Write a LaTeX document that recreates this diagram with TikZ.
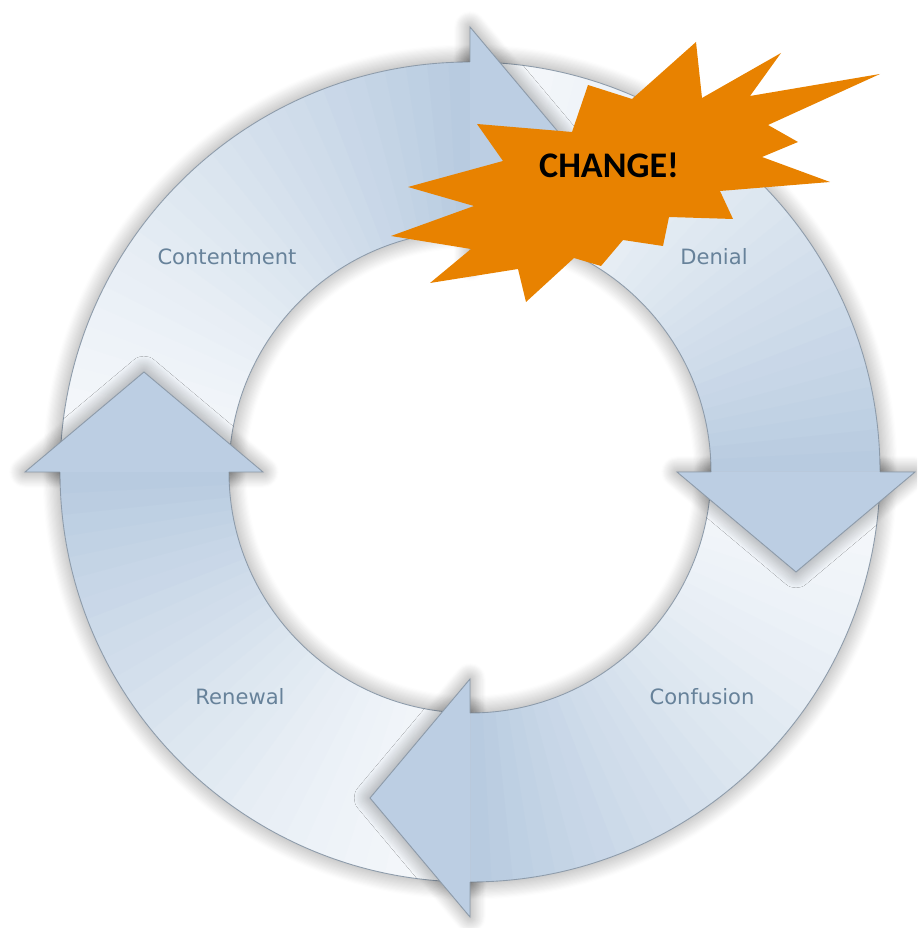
\documentclass[tikz,border=0pt]{standalone}
\usepackage{fontspec}
\setmainfont{DejaVu Sans}
\newfontfamily\burstfont{Carlito}
\usetikzlibrary{shadows.blur}
\definecolor{ringlight}{HTML}{F5F8FB}
\definecolor{ringdeep}{HTML}{B8CBE0}
\definecolor{headfill}{HTML}{BCCEE3}
\definecolor{ringedge}{HTML}{8D9BAA}
\definecolor{stagetext}{HTML}{67829A}
\definecolor{burst}{HTML}{E88200}

\begin{document}
\begin{tikzpicture}[x=0.02cm,y=0.02cm,
  softshadow/.style={blur shadow={shadow xshift=0pt,shadow yshift=0pt,shadow blur radius=10pt,shadow blur steps=16,shadow opacity=42}},
  headshadow/.style={blur shadow={shadow xshift=0pt,shadow yshift=0pt,shadow blur radius=9pt,shadow blur steps=16,shadow opacity=45}},
  ringline/.style={draw=ringedge,line width=0.5pt},
  stage/.style={font=\fontsize{12}{14}\selectfont,text=stagetext}]
  \useasboundingbox (-470,-456) rectangle (447,472);
  % shadow under the four bands
  \foreach \a in {180,90,0,-90}
    \path[softshadow,fill=white] (\a:410) arc[start angle=\a,end angle=\a-90,radius=410]
      -- (\a-90:241) arc[start angle=\a-90,end angle=\a,radius=241] -- cycle;
  % bands, light at the tail and darker towards the head
  \foreach \a in {180,90,0,-90}
    \foreach \i in {0,...,29} {
      \pgfmathsetmacro\segfrom{\a-3*\i}
      \pgfmathsetmacro\segto{\a-3*\i-3.6}
      \pgfmathtruncatemacro\mix{100*(\i/29)^1.4}
      \fill[ringdeep!\mix!ringlight] (\segfrom:241) arc[start angle=\segfrom,end angle=\segto,radius=241]
        -- (\segto:410) arc[start angle=\segto,end angle=\segfrom,radius=410] -- cycle;
    }
  \foreach \a in {180,90,0,-90}
    \draw[ringline] (\a:410) arc[start angle=\a,end angle=\a-90,radius=410]
      (\a:241) arc[start angle=\a,end angle=\a-90,radius=241];
  % arrow heads, their shadow kept off their own band
  \foreach \a/\h in {180/90,90/0,0/-90,-90/-180} {
    \begin{scope}[even odd rule]
      \clip (-470,-456) rectangle (447,472)
        (\a:410) arc[start angle=\a,end angle=\h,radius=410]
        -- (\h:241) arc[start angle=\h,end angle=\a,radius=241] -- cycle;
      \path[headshadow] (\h:207) -- (\h-17.05:341) -- (\h:445) -- cycle;
    \end{scope}
    \fill[headfill] (\h:207) -- (\h-17.05:341) -- (\h:445) -- cycle;
    \draw[ringline] (\h:241) -- (\h:207) -- (\h-17.05:341) -- (\h:445) -- (\h:410);
  }
  \node[stage] (contentment) at (-243,215) {Contentment};
  \node[stage] (denial) at (244,215) {Denial};
  \node[stage] (confusion) at (232,-225) {Confusion};
  \node[stage] (renewal) at (-230,-225) {Renewal};
  % the burst
  \fill[burst] (226,430) -- (232,374) -- (311,419) -- (280,376) -- (410,398)
    -- (298,347) -- (328,330) -- (292,315) -- (360,290) -- (250,281)
    -- (263,253) -- (199,255) -- (193,226) -- (153,232) -- (131,206)
    -- (104,214) -- (56,170) -- (48,203) -- (-40,189) -- (1,223)
    -- (-79,236) -- (4,266) -- (-62,285) -- (33,311) -- (7,348)
    -- (102,340) -- (118,387) -- (162,373) -- cycle;
  \node[font=\burstfont\bfseries\fontsize{20.5}{24}\selectfont] (change) at (139,307) {CHANGE!};
\end{tikzpicture}
\end{document}
